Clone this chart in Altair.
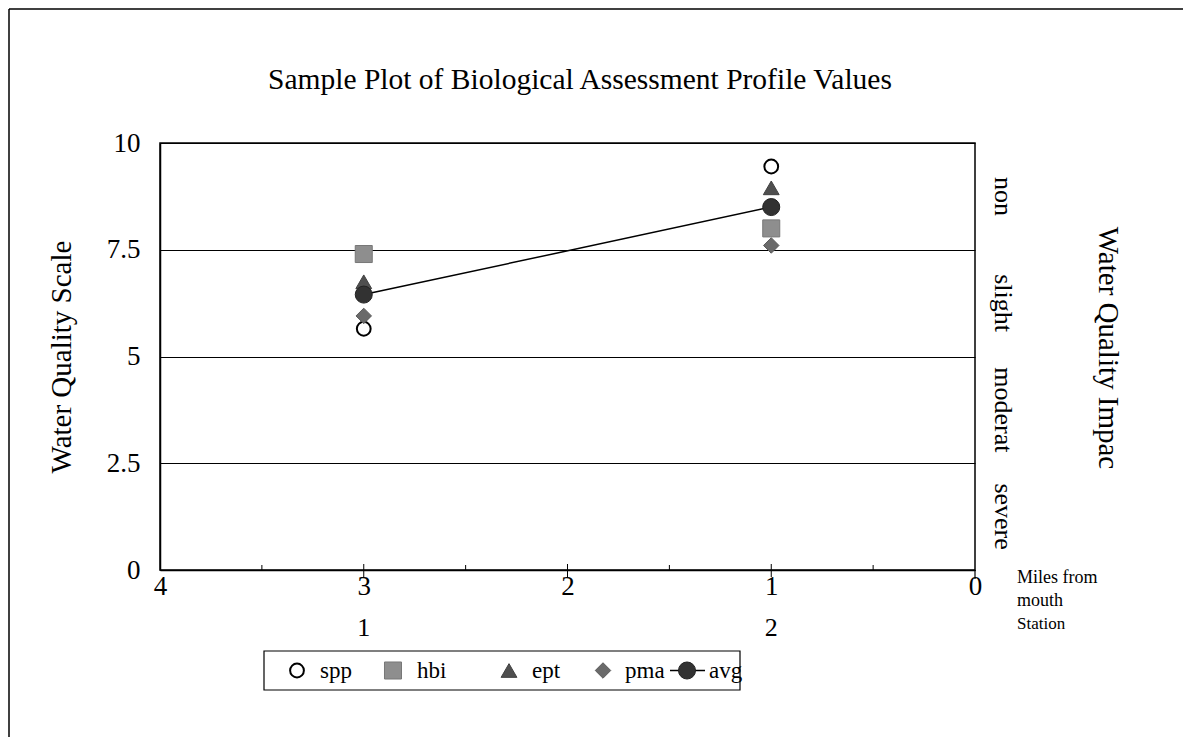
import altair as alt
import pandas as pd

# ---- data ----
miles = [3, 1]
stations = ["1", "2"]
series = ["spp", "hbi", "ept", "pma", "avg"]
spp = [5.65, 9.45]
hbi = [7.4, 8.0]
ept = [6.75, 8.95]
pma = [5.95, 7.6]
avg = [6.45, 8.5]
y_ticks = [0, 2.5, 5, 7.5, 10]
x_ticks = [4, 3, 2, 1, 0]
major_x = [3, 2, 1]
minor_x = [3.5, 2.5, 1.5, 0.5]
impact_labels = ["non", "slight", "moderat", "severe"]
impact_pos = [8.75, 6.25, 3.75, 1.25]

FONT = "Liberation Serif"
W, H = 815, 427
PL, PT = 152, 135

values = {"spp": spp, "hbi": hbi, "ept": ept, "pma": pma, "avg": avg}
styles = {
    "spp": dict(shape="circle", size=190, fill="white", stroke="black", strokeWidth=2),
    "hbi": dict(shape="square", size=290, fill="#8e8e8e", stroke="#777777", strokeWidth=1),
    "ept": dict(shape="triangle-up", size=250, fill="#4f4f4f", stroke="#404040", strokeWidth=1),
    "pma": dict(shape="diamond", size=240, fill="#6a6a6a", stroke="#5a5a5a", strokeWidth=1),
    "avg": dict(shape="circle", size=290, fill="#323232", stroke="#222222", strokeWidth=1),
}

xs = alt.Scale(domain=[0, 4], reverse=True, nice=False, zero=False)
ys = alt.Scale(domain=[0, 10], nice=False)

rows = []
for s in series:
    for m, v in zip(miles, values[s]):
        rows.append({"series": s, "miles": m, "value": v})
df = pd.DataFrame(rows)

base = alt.Chart(df)

xaxis = alt.Axis(values=x_ticks, title=None, ticks=False, grid=False,
                 domainColor="black", domainWidth=1.5, labelFont=FONT, labelFontSize=27,
                 labelColor="black", labelPadding=3, labelFlush=False,
                 labelExpr="datum.value + ''")
yaxis = alt.Axis(values=y_ticks, title=None, ticks=False, grid=True, gridColor="black",
                 gridWidth=1, gridOpacity=1, domainColor="black", domainWidth=1.5,
                 labelFont=FONT, labelFontSize=27, labelColor="black", labelPadding=20,
                 labelExpr="datum.value + ''")

axes_layer = base.mark_point(opacity=0).encode(
    x=alt.X("miles:Q", scale=xs, axis=xaxis),
    y=alt.Y("value:Q", scale=ys, axis=yaxis),
)

line = base.transform_filter(alt.datum.series == "avg").mark_line(
    color="black", strokeWidth=1.5
).encode(x=alt.X("miles:Q", scale=xs), y=alt.Y("value:Q", scale=ys))

points = []
for s in series:
    points.append(
        base.transform_filter(alt.datum.series == s)
        .mark_point(filled=True, opacity=1, fillOpacity=1, **styles[s])
        .encode(x=alt.X("miles:Q", scale=xs), y=alt.Y("value:Q", scale=ys))
    )

# x-axis tick marks (major crossing the axis, minor inside)
major_df = pd.DataFrame({"m": major_x})
minor_df = pd.DataFrame({"m": minor_x})
major_ticks = alt.Chart(major_df).mark_rule(color="black", strokeWidth=1).encode(
    x=alt.X("m:Q", scale=xs), y=alt.value(H - 6), y2=alt.value(H + 7))
minor_ticks = alt.Chart(minor_df).mark_rule(color="black", strokeWidth=1).encode(
    x=alt.X("m:Q", scale=xs), y=alt.value(H - 5), y2=alt.value(H))
right_tick = alt.Chart(pd.DataFrame({"m": [0]})).mark_rule(color="black", strokeWidth=1.2).encode(
    x=alt.X("m:Q", scale=xs), y=alt.value(H), y2=alt.value(H + 9))

# station labels
st_df = pd.DataFrame({"miles": miles, "station": stations})
st_text = alt.Chart(st_df).mark_text(font=FONT, fontSize=26, color="black",
                                     baseline="middle", align="center").encode(
    x=alt.X("miles:Q", scale=xs), y=alt.value(628 - 143), text="station:N")

# impact labels on right
imp_df = pd.DataFrame({"label": impact_labels, "pos": impact_pos})
imp_text = alt.Chart(imp_df).mark_text(font=FONT, fontSize=26, color="black", angle=90,
                                       baseline="middle", align="center").encode(
    x=alt.value(1003 - 160), y=alt.Y("pos:Q", scale=ys), text="label:N")

one = pd.DataFrame({"a": [0]})


def txt(t, px, py, size, angle=0, align="center", baseline="middle"):
    kw = dict(font=FONT, fontSize=size, color="black", align=align, baseline=baseline, text=t)
    if angle:
        kw["angle"] = angle
    return alt.Chart(one).mark_text(**kw).encode(x=alt.value(px - 160), y=alt.value(py - 143))


title = txt("Sample Plot of Biological Assessment Profile Values", 580, 80, 29.5)
left_title = txt("Water Quality Scale", 62, 357, 29, angle=270)
right_title = txt("Water Quality Impac", 1108, 348, 29, angle=90)
miles_t = txt("Miles from", 1017, 578, 18, align="left")
mouth_t = txt("mouth", 1017, 601, 18, align="left")
station_t = txt("Station", 1017, 624, 17, align="left")

# frame lines (top and left)
FX, FY = 9, 9
frame_top = alt.Chart(one).mark_rule(color="black", strokeWidth=1.5).encode(
    x=alt.value(FX - 160), x2=alt.value(1191 - 160), y=alt.value(FY - 143))
frame_left = alt.Chart(one).mark_rule(color="black", strokeWidth=1.5).encode(
    x=alt.value(FX - 160), y=alt.value(FY - 143), y2=alt.value(745 - 143))

# legend
LX0, LX1, LY0, LY1 = 264, 740, 651, 690
LYC = (LY0 + LY1) / 2
legend_box = alt.Chart(one).mark_rect(fill="white", stroke="black", strokeWidth=1.2).encode(
    x=alt.value(LX0 - 160), x2=alt.value(LX1 - 160), y=alt.value(LY0 - 143), y2=alt.value(LY1 - 143))
sym_x = [297, 393, 509, 603, 687]
txt_x = [320, 417, 532, 625, 709]
legend_layers = [legend_box,
                 alt.Chart(one).mark_rule(color="black", strokeWidth=1.5).encode(
                     x=alt.value(670 - 160), x2=alt.value(705 - 160), y=alt.value(LYC - 143))]
for s, sx, tx in zip(series, sym_x, txt_x):
    legend_layers.append(
        alt.Chart(one).mark_point(filled=True, opacity=1, fillOpacity=1, **styles[s]).encode(
            x=alt.value(sx - 160), y=alt.value(LYC - 143)))
    legend_layers.append(txt(s, tx, LYC, 23, align="left"))

chart = alt.layer(
    frame_top, frame_left, axes_layer, major_ticks, minor_ticks, right_tick, line, *points,
    st_text, imp_text, title, left_title, right_title, miles_t, mouth_t, station_t,
    *legend_layers,
).properties(
    width=W, height=H,
    padding={"left": PL, "top": PT, "right": 1175 - PL - W, "bottom": 729 - PT - H},
    autosize=alt.AutoSizeParams(type="none"),
    background="white",
).configure_view(stroke="black", strokeWidth=1.5)

chart.save("out.html", embed_options={"renderer": "svg", "actions": False})
